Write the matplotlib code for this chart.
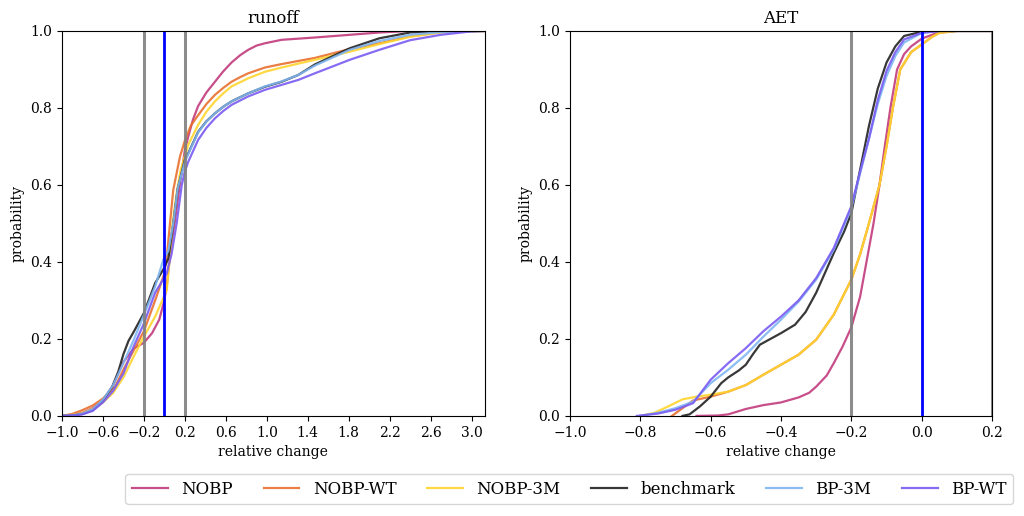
import matplotlib
matplotlib.use("Agg")
import matplotlib.pyplot as plt

plt.rcParams["font.family"] = ["DejaVu Serif"]

labels = ["NOBP", "NOBP-WT", "NOBP-3M", "benchmark", "BP-3M", "BP-WT"]
colors = ["#c23b7d", "#e8702f", "#ffd52e", "#222222", "#7fb6f2", "#7a5cf2"]

# runoff: cumulative probability
runoff_x = {
    "NOBP": [-1.0, -0.9, -0.8, -0.7, -0.6, -0.5, -0.4, -0.3, -0.2, -0.12, -0.05, -0.01, 0.02, 0.04, 0.07, 0.1,
             0.14, 0.2, 0.233, 0.28, 0.33, 0.41, 0.494, 0.575, 0.656, 0.74, 0.819, 0.9, 0.982, 1.145, 1.47, 1.81,
             2.1, 2.4, 3.13],
    "NOBP-WT": [-1.0, -0.9, -0.8, -0.7, -0.6, -0.48, -0.4, -0.3, -0.2, -0.09, 0.0, 0.03, 0.055, 0.087, 0.152,
                0.2, 0.26, 0.33, 0.41, 0.494, 0.575, 0.656, 0.74, 0.819, 0.982, 1.145, 1.47, 1.81, 2.1, 2.4, 2.7,
                3.13],
    "NOBP-3M": [-1.0, -0.9, -0.8, -0.7, -0.6, -0.5, -0.4, -0.3, -0.2, -0.09, -0.02, 0.023, 0.05, 0.08, 0.12,
                0.16, 0.2, 0.233, 0.33, 0.41, 0.494, 0.575, 0.656, 0.819, 0.982, 1.145, 1.47, 1.81, 2.1, 2.4, 2.7,
                3.13],
    "benchmark": [-1.0, -0.9, -0.8, -0.7, -0.6, -0.51, -0.45, -0.4, -0.35, -0.3, -0.2, -0.09, 0.0, 0.04, 0.087,
                  0.13, 0.2, 0.233, 0.33, 0.41, 0.494, 0.575, 0.656, 0.819, 0.982, 1.145, 1.31, 1.47, 1.81, 2.1,
                  2.4, 2.7, 3.13],
    "BP-3M": [-1.0, -0.9, -0.8, -0.7, -0.6, -0.5, -0.4, -0.3, -0.2, -0.09, -0.011, 0.04, 0.087, 0.13, 0.2,
              0.233, 0.33, 0.41, 0.494, 0.575, 0.656, 0.819, 0.982, 1.145, 1.31, 1.47, 1.81, 2.1, 2.4, 2.7, 3.13],
    "BP-WT": [-1.0, -0.9, -0.8, -0.7, -0.6, -0.5, -0.4, -0.3, -0.2, -0.09, 0.023, 0.07, 0.12, 0.17, 0.2, 0.233,
              0.33, 0.41, 0.494, 0.575, 0.656, 0.819, 0.982, 1.31, 1.47, 1.81, 2.1, 2.4, 2.7, 3.0, 3.13],
}
runoff_p = {
    "NOBP": [0.0, 0.002, 0.008, 0.02, 0.04, 0.08, 0.14, 0.175, 0.19, 0.215, 0.25, 0.29, 0.33, 0.38, 0.45, 0.5,
             0.58, 0.69, 0.725, 0.77, 0.805, 0.84, 0.868, 0.895, 0.918, 0.937, 0.951, 0.962, 0.968, 0.977, 0.983,
             0.99, 0.996, 1.0, 1.0],
    "NOBP-WT": [0.0, 0.005, 0.015, 0.027, 0.045, 0.076, 0.12, 0.17, 0.22, 0.3, 0.37, 0.43, 0.5, 0.587, 0.673,
                0.715, 0.755, 0.781, 0.81, 0.834, 0.852, 0.868, 0.88, 0.89, 0.905, 0.914, 0.93, 0.953, 0.968,
                0.986, 0.997, 1.0],
    "NOBP-3M": [0.0, 0.002, 0.007, 0.018, 0.035, 0.06, 0.1, 0.154, 0.206, 0.258, 0.3, 0.327, 0.4, 0.5, 0.58,
                0.64, 0.675, 0.704, 0.756, 0.79, 0.817, 0.838, 0.856, 0.877, 0.894, 0.905, 0.925, 0.946, 0.966,
                0.985, 0.996, 1.0],
    "benchmark": [0.0, 0.001, 0.005, 0.015, 0.04, 0.075, 0.115, 0.16, 0.195, 0.218, 0.267, 0.345, 0.385, 0.41,
                  0.5, 0.59, 0.665, 0.682, 0.738, 0.765, 0.786, 0.803, 0.817, 0.838, 0.855, 0.868, 0.886, 0.913,
                  0.955, 0.981, 0.996, 0.999, 1.0],
    "BP-3M": [0.0, 0.001, 0.006, 0.017, 0.042, 0.08, 0.137, 0.197, 0.262, 0.336, 0.405, 0.43, 0.5, 0.59, 0.66,
              0.68, 0.737, 0.764, 0.786, 0.803, 0.817, 0.838, 0.856, 0.869, 0.886, 0.91, 0.951, 0.974, 0.99,
              0.997, 1.0],
    "BP-WT": [0.0, 0.001, 0.004, 0.013, 0.035, 0.065, 0.11, 0.18, 0.24, 0.32, 0.37, 0.42, 0.5, 0.6, 0.635,
              0.66, 0.717, 0.748, 0.773, 0.792, 0.808, 0.83, 0.847, 0.873, 0.89, 0.925, 0.951, 0.976, 0.99,
              0.999, 1.0],
}

# AET: cumulative probability
aet_x = {
    "NOBP": [-0.64, -0.58, -0.55, -0.5, -0.45, -0.4, -0.35, -0.32, -0.3, -0.27, -0.25, -0.225, -0.2, -0.175,
             -0.157, -0.137, -0.12, -0.105, -0.089, -0.07, -0.05, -0.03, 0.0, 0.05, 0.1, 0.2],
    "NOBP-WT": [-0.71, -0.68, -0.65, -0.6, -0.55, -0.5, -0.45, -0.4, -0.35, -0.3, -0.25, -0.2, -0.175, -0.15,
                -0.12, -0.1, -0.082, -0.061, -0.03, 0.0, 0.03, 0.05, 0.1, 0.2],
    "NOBP-3M": [-0.8, -0.76, -0.72, -0.68, -0.64, -0.6, -0.55, -0.5, -0.45, -0.4, -0.35, -0.3, -0.25, -0.2,
                -0.175, -0.15, -0.12, -0.1, -0.082, -0.061, -0.03, 0.0, 0.03, 0.05, 0.1, 0.2],
    "benchmark": [-0.68, -0.66, -0.63, -0.6, -0.57, -0.55, -0.52, -0.5, -0.48, -0.46, -0.43, -0.4, -0.36, -0.33,
                  -0.3, -0.25, -0.22, -0.2, -0.175, -0.15, -0.125, -0.1, -0.075, -0.05, 0.0, 0.05, 0.2],
    "BP-3M": [-0.8, -0.75, -0.7, -0.65, -0.6, -0.55, -0.5, -0.45, -0.4, -0.35, -0.3, -0.25, -0.2, -0.175, -0.15,
              -0.125, -0.1, -0.075, -0.05, 0.0, 0.05, 0.2],
    "BP-WT": [-0.81, -0.75, -0.7, -0.65, -0.6, -0.55, -0.5, -0.45, -0.4, -0.35, -0.3, -0.25, -0.2, -0.175, -0.15,
              -0.125, -0.1, -0.075, -0.05, 0.0, 0.05, 0.2],
}
aet_p = {
    "NOBP": [0.0, 0.001, 0.004, 0.018, 0.028, 0.035, 0.048, 0.06, 0.076, 0.105, 0.137, 0.18, 0.23, 0.31, 0.4,
             0.5, 0.6, 0.7, 0.8, 0.9, 0.94, 0.96, 0.98, 0.997, 1.0, 1.0],
    "NOBP-WT": [0.0, 0.02, 0.04, 0.05, 0.063, 0.08, 0.107, 0.133, 0.159, 0.198, 0.263, 0.354, 0.42, 0.5, 0.6,
                0.7, 0.8, 0.9, 0.945, 0.965, 0.985, 0.995, 1.0, 1.0],
    "NOBP-3M": [0.0, 0.008, 0.025, 0.043, 0.05, 0.055, 0.063, 0.08, 0.107, 0.133, 0.159, 0.198, 0.263, 0.354,
                0.42, 0.5, 0.6, 0.7, 0.8, 0.9, 0.945, 0.965, 0.985, 0.995, 1.0, 1.0],
    "benchmark": [0.0, 0.004, 0.025, 0.05, 0.085, 0.1, 0.118, 0.133, 0.16, 0.185, 0.2, 0.215, 0.237, 0.27,
                  0.32, 0.423, 0.48, 0.527, 0.64, 0.753, 0.85, 0.918, 0.96, 0.987, 0.998, 1.0, 1.0],
    "BP-3M": [0.0, 0.008, 0.02, 0.037, 0.085, 0.12, 0.159, 0.206, 0.25, 0.297, 0.354, 0.432, 0.54, 0.63, 0.72,
              0.81, 0.883, 0.935, 0.97, 0.995, 1.0, 1.0],
    "BP-WT": [0.0, 0.006, 0.016, 0.033, 0.094, 0.137, 0.176, 0.22, 0.258, 0.3, 0.358, 0.436, 0.545, 0.635, 0.72,
              0.82, 0.896, 0.945, 0.978, 0.995, 1.0, 1.0],
}

panels = [
    ("runoff", runoff_x, runoff_p, (-1.0, 3.13), [-1.0 + 0.4 * i for i in range(11)]),
    ("AET", aet_x, aet_p, (-1.0, 0.2), [-1.0 + 0.2 * i for i in range(7)]),
]
band = [-0.2, 0.2]

fig = plt.figure(figsize=(10.24, 5.16), dpi=100)
ax1 = fig.add_axes([0.0605, 0.194, 0.413, 0.746])
ax2 = fig.add_axes([0.5566, 0.194, 0.4122, 0.746])

for ax, (title, xs, ps, xlim, ticks) in zip([ax1, ax2], panels):
    for name, c in zip(labels, colors):
        ax.plot(xs[name], ps[name], color=c, lw=1.6, alpha=0.9, label=name)
    for b in band:
        ax.axvline(b, color="gray", lw=2.2, alpha=0.9)
    ax.axvline(0.0, color="blue", lw=2)
    ax.set_xlim(*xlim)
    ax.set_ylim(0, 1)
    ax.set_xticks(ticks)
    ax.set_xticklabels([f"{t:.1f}".replace("-", "\u2212") for t in ticks])
    ax.set_title(title, fontsize=12)
    ax.set_xlabel("relative change")
    ax.set_ylabel("probability")

handles, names = ax1.get_legend_handles_labels()
fig.legend(handles, names, loc="center", ncol=6, fontsize=12,
           bbox_to_anchor=(0.556, 0.052), columnspacing=1.85, handlelength=2.15)

fig.savefig("out.png", dpi=100)
